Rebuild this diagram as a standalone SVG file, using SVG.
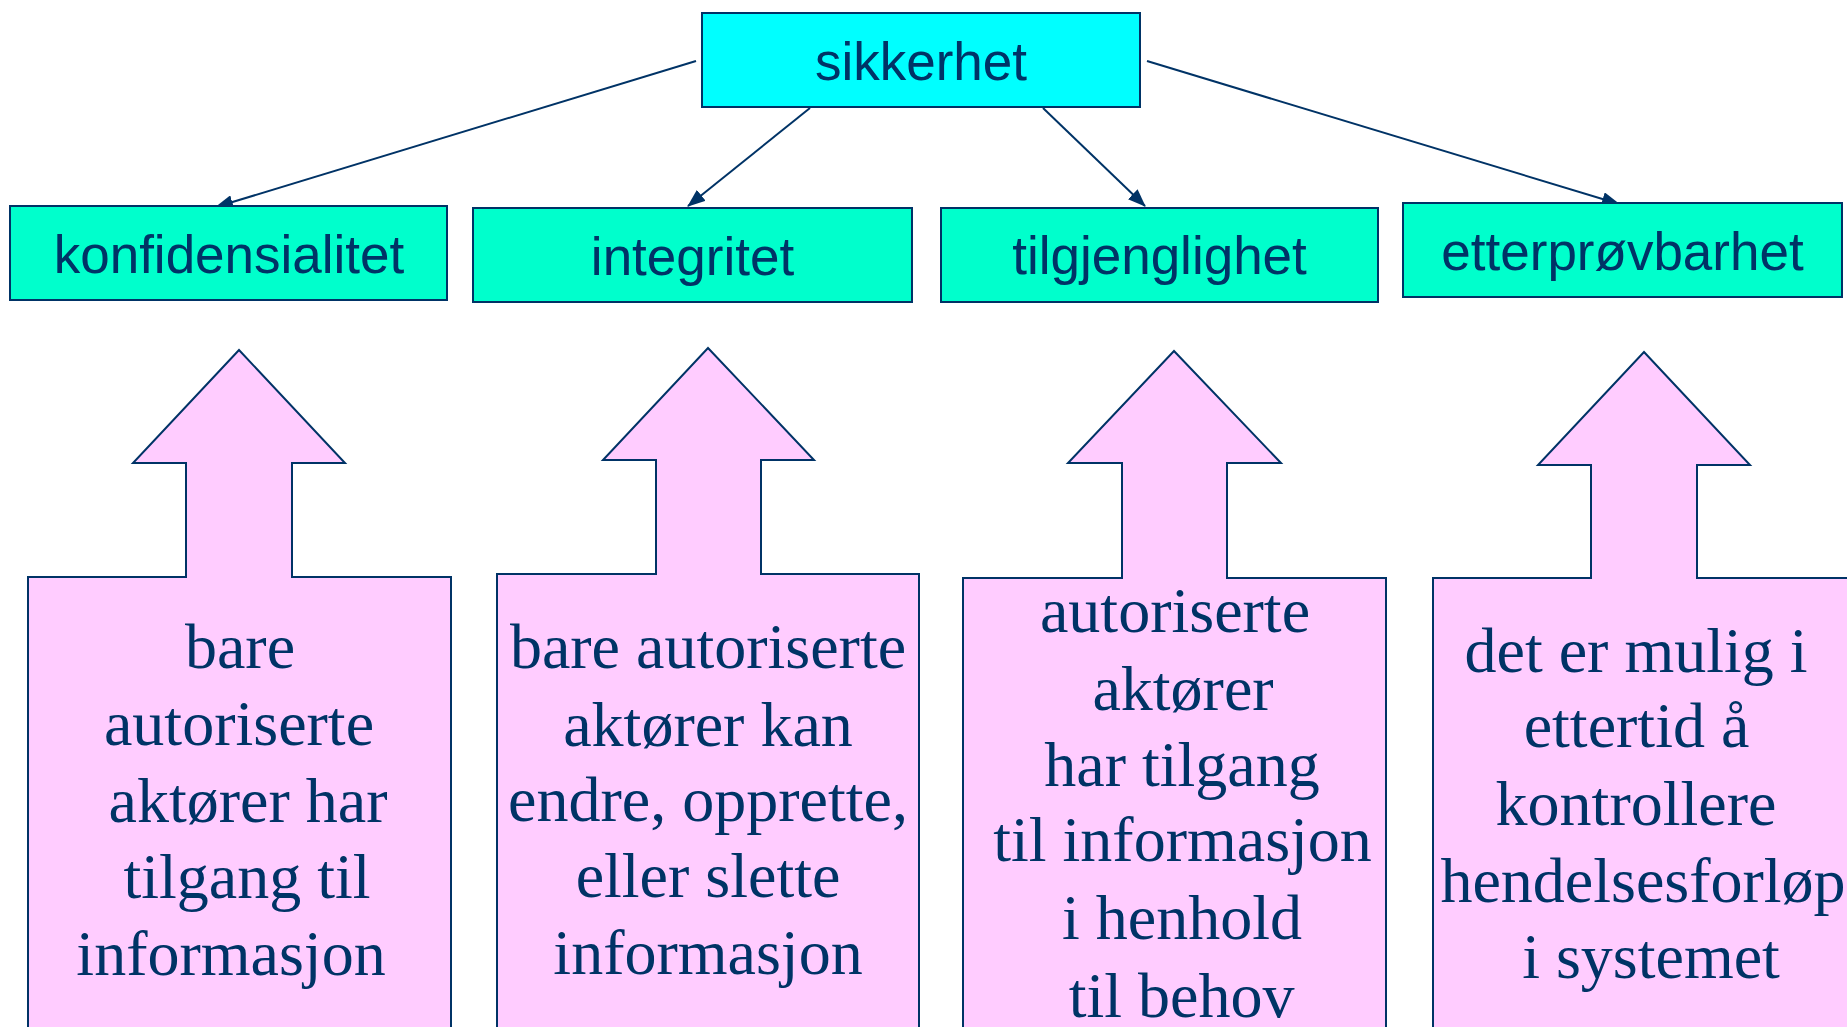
<svg xmlns="http://www.w3.org/2000/svg" width="1847" height="1027" viewBox="0 0 1847 1027">
<defs>
<style>
.top{fill:#00FFFF;stroke:#003366;stroke-width:2}
.cat{fill:#00FFCC;stroke:#003366;stroke-width:2}
.call{fill:#FFCCFF;stroke:#003366;stroke-width:2;stroke-linejoin:miter}
.sans{font-family:"Liberation Sans",Arial,sans-serif;font-size:53px;fill:#003366;text-anchor:middle}
.serif{font-family:"Liberation Serif","Times New Roman",serif;font-size:64px;fill:#003366;text-anchor:middle}
.conn{stroke:#003366;stroke-width:2;fill:none}
</style>
<marker id="ah" markerWidth="18" markerHeight="14" refX="17" refY="7" orient="auto" markerUnits="userSpaceOnUse">
<path d="M0,0 L18,7 L0,14 z" fill="#003366"/>
</marker>
</defs>
<rect width="1847" height="1027" fill="#FFFFFF"/>

<g id="connectors">
<line class="conn" x1="696" y1="61" x2="216" y2="207" marker-end="url(#ah)"/>
<line class="conn" x1="810" y1="108" x2="688" y2="206" marker-end="url(#ah)"/>
<line class="conn" x1="1043" y1="108" x2="1145" y2="206" marker-end="url(#ah)"/>
<line class="conn" x1="1147" y1="61" x2="1619" y2="204" marker-end="url(#ah)"/>
</g>

<g id="sikkerhet">
<rect class="top" x="702" y="13" width="438" height="94"/>
<text class="sans" x="921" y="80">sikkerhet</text>
</g>

<g id="konfidensialitet">
<rect class="cat" x="10" y="206" width="437" height="94"/>
<text class="sans" x="229" y="273">konfidensialitet</text>
</g>

<g id="integritet">
<rect class="cat" x="473" y="208" width="439" height="94"/>
<text class="sans" x="692.5" y="275">integritet</text>
</g>

<g id="tilgjenglighet">
<rect class="cat" x="941" y="208" width="437" height="94"/>
<text class="sans" x="1159.5" y="274">tilgjenglighet</text>
</g>

<g id="etterprovbarhet">
<rect class="cat" x="1403" y="203" width="439" height="94"/>
<text class="sans" x="1622.5" y="270">etterprøvbarhet</text>
</g>

<g id="callout-konfidensialitet">
<path class="call" d="M239,350 L345,463 L292,463 L292,577 L451,577 L451,1040 L28,1040 L28,577 L186,577 L186,463 L133,463 Z"/>
<text class="serif" x="240" y="668">bare</text>
<text class="serif" x="239" y="745">autoriserte</text>
<text class="serif" x="248" y="822">aktører har</text>
<text class="serif" x="247" y="898">tilgang til</text>
<text class="serif" x="231" y="975">informasjon</text>
</g>

<g id="callout-integritet">
<path class="call" d="M708,348 L814,460 L761,460 L761,574 L919,574 L919,1040 L497,1040 L497,574 L656,574 L656,460 L603,460 Z"/>
<text class="serif" x="708" y="668">bare autoriserte</text>
<text class="serif" x="708" y="746">aktører kan</text>
<text class="serif" x="708" y="821">endre, opprette,</text>
<text class="serif" x="708" y="897">eller slette</text>
<text class="serif" x="708" y="974">informasjon</text>
</g>

<g id="callout-tilgjenglighet">
<path class="call" d="M1174,351 L1281,463 L1227,463 L1227,578 L1386,578 L1386,1040 L963,1040 L963,578 L1122,578 L1122,463 L1068,463 Z"/>
<text class="serif" x="1175" y="632">autoriserte</text>
<text class="serif" x="1183" y="710">aktører</text>
<text class="serif" x="1182" y="786">har tilgang</text>
<text class="serif" x="1182.5" y="861">til informasjon</text>
<text class="serif" x="1182" y="939">i henhold</text>
<text class="serif" x="1181.5" y="1017">til behov</text>
</g>

<g id="callout-etterprovbarhet">
<path class="call" d="M1644,352 L1750,465 L1697,465 L1697,578 L1870,578 L1870,1040 L1433,1040 L1433,578 L1591,578 L1591,465 L1538,465 Z"/>
<text class="serif" x="1636" y="672">det er mulig i</text>
<text class="serif" x="1636.5" y="747">ettertid å</text>
<text class="serif" x="1636" y="825">kontrollere</text>
<text class="serif" x="1643" y="902">hendelsesforløp</text>
<text class="serif" x="1651" y="978">i systemet</text>
</g>
</svg>
